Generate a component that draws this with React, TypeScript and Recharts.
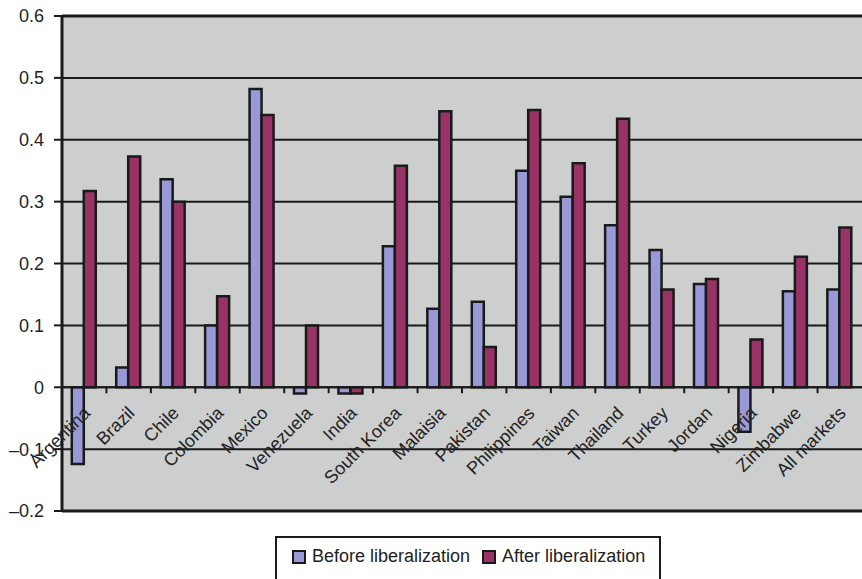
import React from 'react';
import { BarChart, Bar, XAxis, YAxis, CartesianGrid, ReferenceLine } from 'recharts';

const countries = [
  'Argentina', 'Brazil', 'Chile', 'Colombia', 'Mexico', 'Venezuela', 'India',
  'South Korea', 'Malaisia', 'Pakistan', 'Philippines', 'Taiwan', 'Thailand',
  'Turkey', 'Jordan', 'Nigeria', 'Zimbabwe', 'All markets',
];
const beforeLib = [
  -0.124, 0.032, 0.336, 0.1, 0.482, -0.01, -0.01, 0.228, 0.127, 0.138, 0.35,
  0.308, 0.262, 0.222, 0.167, -0.072, 0.155, 0.158,
];
const afterLib = [
  0.317, 0.373, 0.3, 0.147, 0.44, 0.1, -0.01, 0.358, 0.446, 0.065, 0.448,
  0.362, 0.434, 0.158, 0.175, 0.077, 0.211, 0.258,
];
const yTicks = [-0.2, -0.1, 0, 0.1, 0.2, 0.3, 0.4, 0.5, 0.6];

const data = countries.map((name, i) => ({ name, before: beforeLib[i], after: afterLib[i] }));

const W = 862;
const H = 579;
const X_H = 1;
const M = { top: 16, right: 0, bottom: 67, left: 0 };
const Y_W = 62;
const Y_MIN = -0.2;
const Y_MAX = 0.6;
const plotH = H - M.top - M.bottom - X_H;
const zeroY = M.top + (plotH * Y_MAX) / (Y_MAX - Y_MIN);
const band = (W - Y_W - M.right) / countries.length;

const FONT = '"Liberation Sans", Arial, sans-serif';
const BEFORE = '#9999D8';
const AFTER = '#993366';
const INK = '#1a1a1a';

const fmt = (v: number) => {
  if (v === 0) return '0';
  const s = Math.abs(v).toFixed(1);
  return v < 0 ? `\u2013${s}` : s;
};

// labels hang from the zero line, not from the plot bottom
const CountryTick = (props: any) => {
  const { x, payload, index } = props;
  const left = x - band / 2;
  const tx = x + 7;
  const ty = zeroY + 27;
  return (
    <g>
      {index > 0 && <line x1={left} y1={zeroY} x2={left} y2={zeroY + 6} stroke={INK} strokeWidth={2} />}
      <text
        x={tx}
        y={ty}
        transform={`rotate(-45 ${tx} ${ty})`}
        textAnchor="end"
        fontSize={18}
        fill="#222"
        fontFamily={FONT}
      >
        {payload.value}
      </text>
    </g>
  );
};

const LegendBox = ({ color, label }: { color: string; label: string }) => (
  <div style={{ display: 'flex', alignItems: 'center', marginRight: 12 }}>
    <div style={{ width: 10, height: 10, background: color, border: `2px solid ${INK}`, marginRight: 6 }} />
    <span>{label}</span>
  </div>
);

export default function App() {
  return (
    <div style={{ position: 'absolute', left: 0, top: 0, width: W, height: H, background: '#fff', overflow: 'hidden' }}>
      <BarChart
        width={W}
        height={H}
        data={data}
        margin={M}
        barCategoryGap="22%"
        barGap={0}
      >
        <CartesianGrid
          vertical={false}
          fill="#CDCFCE"
          fillOpacity={1}
          stroke={INK}
          strokeWidth={2}
        />
        <XAxis
          dataKey="name"
          height={X_H}
          axisLine={false}
          tickLine={false}
          interval={0}
          tick={(p: any) => <CountryTick {...p} />}
        />
        <YAxis
          width={Y_W}
          domain={[Y_MIN, Y_MAX]}
          ticks={yTicks}
          tickFormatter={fmt}
          axisLine={{ stroke: INK, strokeWidth: 3 }}
          tickLine={{ stroke: INK, strokeWidth: 2 }}
          tickSize={8}
          tickMargin={10}
          tick={{ fontSize: 18, fill: '#222', fontFamily: FONT }}
        />
        <ReferenceLine y={Y_MAX} stroke={INK} strokeWidth={3} />
        <ReferenceLine y={Y_MIN} stroke={INK} strokeWidth={3} />
        <Bar dataKey="before" fill={BEFORE} stroke={INK} strokeWidth={2.5} isAnimationActive={false} />
        <Bar dataKey="after" fill={AFTER} stroke={INK} strokeWidth={2.5} isAnimationActive={false} />
        <ReferenceLine y={0} stroke={INK} strokeWidth={2} />
      </BarChart>
      <div
        style={{
          position: 'absolute',
          left: 275,
          top: 536,
          width: 386,
          height: 50,
          border: `2px solid ${INK}`,
          boxSizing: 'border-box',
          display: 'flex',
          alignItems: 'flex-start',
          paddingLeft: 15,
          paddingTop: 8,
          fontFamily: FONT,
          fontSize: 18,
          color: '#222',
        }}
      >
        <LegendBox color={BEFORE} label="Before liberalization" />
        <LegendBox color={AFTER} label="After liberalization" />
      </div>
    </div>
  );
}
